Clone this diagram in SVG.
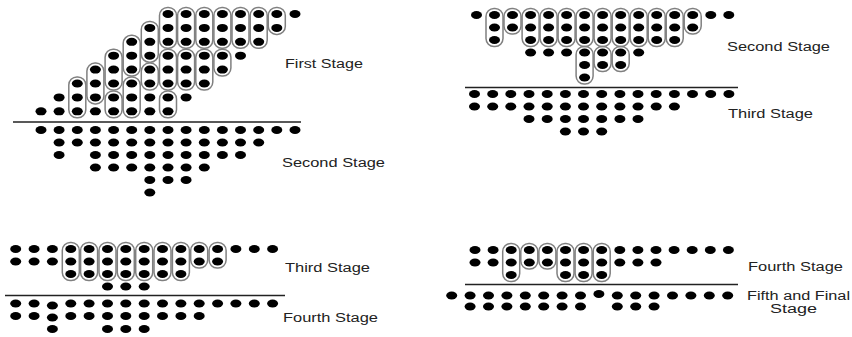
<svg xmlns="http://www.w3.org/2000/svg" xmlns:xlink="http://www.w3.org/1999/xlink" width="852" height="337" viewBox="0 0 852 337">
<style>
  .dot{fill:#000}
  .ov{fill:none;stroke:#808080;stroke-width:1.5}
  .ln{stroke:#222;stroke-width:1.3}
  .lb{font-family:"Liberation Sans",Arial,sans-serif;font-size:12px;fill:#222}
</style>
<defs>
  <ellipse id="d" class="dot" cx="0" cy="0" rx="5.5" ry="4"/>
</defs>
<rect width="852" height="337" fill="#fff"/>

<!-- Stage 1 (top-left) -->
<g id="stage1">
  <g id="stage1-ovals">
    <rect class="ov" x="68.8" y="77" width="17" height="40.8" rx="8"/>
    <rect class="ov" x="86.9" y="63.1" width="17" height="40.8" rx="8"/>
    <rect class="ov" x="105.1" y="49.2" width="17" height="40.8" rx="8"/>
    <rect class="ov" x="105.1" y="90.9" width="17" height="26.9" rx="8"/>
    <rect class="ov" x="123.2" y="35.3" width="17" height="40.8" rx="8"/>
    <rect class="ov" x="123.2" y="77" width="17" height="40.8" rx="8"/>
    <rect class="ov" x="141.3" y="21.4" width="17" height="40.8" rx="8"/>
    <rect class="ov" x="141.3" y="63.1" width="17" height="26.9" rx="8"/>
    <rect class="ov" x="159.5" y="7.5" width="17" height="40.8" rx="8"/>
    <rect class="ov" x="159.5" y="49.2" width="17" height="40.8" rx="8"/>
    <rect class="ov" x="159.5" y="90.9" width="17" height="26.9" rx="8"/>
    <rect class="ov" x="177.6" y="7.5" width="17" height="40.8" rx="8"/>
    <rect class="ov" x="177.6" y="49.2" width="17" height="40.8" rx="8"/>
    <rect class="ov" x="195.8" y="7.5" width="17" height="40.8" rx="8"/>
    <rect class="ov" x="195.8" y="49.2" width="17" height="40.8" rx="8"/>
    <rect class="ov" x="213.9" y="7.5" width="17" height="40.8" rx="8"/>
    <rect class="ov" x="213.9" y="49.2" width="17" height="26.9" rx="8"/>
    <rect class="ov" x="232" y="7.5" width="17" height="40.8" rx="8"/>
    <rect class="ov" x="250.2" y="7.5" width="17" height="40.8" rx="8"/>
    <rect class="ov" x="268.3" y="7.5" width="17" height="26.9" rx="8"/>
  </g>
  <g id="stage1-dots">
    <use href="#d" x="41" y="111.3"/><use href="#d" x="59.1" y="111.3"/><use href="#d" x="77.3" y="111.3"/><use href="#d" x="95.4" y="111.3"/><use href="#d" x="113.6" y="111.3"/><use href="#d" x="131.7" y="111.3"/><use href="#d" x="149.8" y="111.3"/><use href="#d" x="168" y="111.3"/>
    <use href="#d" x="59.1" y="97.4"/><use href="#d" x="77.3" y="97.4"/><use href="#d" x="95.4" y="97.4"/><use href="#d" x="113.6" y="97.4"/><use href="#d" x="131.7" y="97.4"/><use href="#d" x="149.8" y="97.4"/><use href="#d" x="168" y="97.4"/><use href="#d" x="186.1" y="97.4"/>
    <use href="#d" x="77.3" y="83.5"/><use href="#d" x="95.4" y="83.5"/><use href="#d" x="113.6" y="83.5"/><use href="#d" x="131.7" y="83.5"/><use href="#d" x="149.8" y="83.5"/><use href="#d" x="168" y="83.5"/><use href="#d" x="186.1" y="83.5"/><use href="#d" x="204.3" y="83.5"/>
    <use href="#d" x="95.4" y="69.6"/><use href="#d" x="113.6" y="69.6"/><use href="#d" x="131.7" y="69.6"/><use href="#d" x="149.8" y="69.6"/><use href="#d" x="168" y="69.6"/><use href="#d" x="186.1" y="69.6"/><use href="#d" x="204.3" y="69.6"/><use href="#d" x="222.4" y="69.6"/>
    <use href="#d" x="113.6" y="55.7"/><use href="#d" x="131.7" y="55.7"/><use href="#d" x="149.8" y="55.7"/><use href="#d" x="168" y="55.7"/><use href="#d" x="186.1" y="55.7"/><use href="#d" x="204.3" y="55.7"/><use href="#d" x="222.4" y="55.7"/><use href="#d" x="240.5" y="55.7"/>
    <use href="#d" x="131.7" y="41.8"/><use href="#d" x="149.8" y="41.8"/><use href="#d" x="168" y="41.8"/><use href="#d" x="186.1" y="41.8"/><use href="#d" x="204.3" y="41.8"/><use href="#d" x="222.4" y="41.8"/><use href="#d" x="240.5" y="41.8"/><use href="#d" x="258.7" y="41.8"/>
    <use href="#d" x="149.8" y="27.9"/><use href="#d" x="168" y="27.9"/><use href="#d" x="186.1" y="27.9"/><use href="#d" x="204.3" y="27.9"/><use href="#d" x="222.4" y="27.9"/><use href="#d" x="240.5" y="27.9"/><use href="#d" x="258.7" y="27.9"/><use href="#d" x="276.8" y="27.9"/>
    <use href="#d" x="168" y="14"/><use href="#d" x="186.1" y="14"/><use href="#d" x="204.3" y="14"/><use href="#d" x="222.4" y="14"/><use href="#d" x="240.5" y="14"/><use href="#d" x="258.7" y="14"/><use href="#d" x="276.8" y="14"/><use href="#d" x="295" y="14"/>
  </g>
  <line class="ln" x1="13" y1="122" x2="301" y2="122"/>
  <text class="lb" x="285" y="68" textLength="78" lengthAdjust="spacingAndGlyphs">First Stage</text>
</g>

<!-- Stage 2 (below first) -->
<g id="stage2-left">
  <use href="#d" x="41" y="130"/><use href="#d" x="59.1" y="130"/><use href="#d" x="77.3" y="130"/><use href="#d" x="95.4" y="130"/><use href="#d" x="113.6" y="130"/><use href="#d" x="131.7" y="130"/><use href="#d" x="149.8" y="130"/><use href="#d" x="168" y="130"/><use href="#d" x="186.1" y="130"/><use href="#d" x="204.3" y="130"/><use href="#d" x="222.4" y="130"/><use href="#d" x="240.5" y="130"/><use href="#d" x="258.7" y="130"/><use href="#d" x="276.8" y="130"/><use href="#d" x="295" y="130"/>
  <use href="#d" x="59.1" y="142.5"/><use href="#d" x="77.3" y="142.5"/><use href="#d" x="95.4" y="142.5"/><use href="#d" x="113.6" y="142.5"/><use href="#d" x="131.7" y="142.5"/><use href="#d" x="149.8" y="142.5"/><use href="#d" x="168" y="142.5"/><use href="#d" x="186.1" y="142.5"/><use href="#d" x="204.3" y="142.5"/><use href="#d" x="222.4" y="142.5"/><use href="#d" x="240.5" y="142.5"/><use href="#d" x="258.7" y="142.5"/>
  <use href="#d" x="59.1" y="155"/><use href="#d" x="95.4" y="155"/><use href="#d" x="113.6" y="155"/><use href="#d" x="131.7" y="155"/><use href="#d" x="149.8" y="155"/><use href="#d" x="168" y="155"/><use href="#d" x="186.1" y="155"/><use href="#d" x="204.3" y="155"/><use href="#d" x="222.4" y="155"/><use href="#d" x="240.5" y="155"/>
  <use href="#d" x="95.4" y="167.5"/><use href="#d" x="113.6" y="167.5"/><use href="#d" x="131.7" y="167.5"/><use href="#d" x="149.8" y="167.5"/><use href="#d" x="168" y="167.5"/><use href="#d" x="186.1" y="167.5"/><use href="#d" x="204.3" y="167.5"/>
  <use href="#d" x="149.8" y="180"/><use href="#d" x="168" y="180"/><use href="#d" x="186.1" y="180"/>
  <use href="#d" x="149.8" y="192.5"/>
  <text class="lb" x="282" y="167" textLength="103" lengthAdjust="spacingAndGlyphs">Second Stage</text>
</g>

<!-- Stage 2 (top-right, grouped) -->
<g id="stage2-right">
  <g id="stage2-ovals">
    <rect class="ov" x="486" y="8.5" width="17" height="38" rx="8"/>
    <rect class="ov" x="504" y="8.5" width="17" height="25.5" rx="8"/>
    <rect class="ov" x="522.1" y="8.5" width="17" height="38" rx="8"/>
    <rect class="ov" x="540.1" y="8.5" width="17" height="38" rx="8"/>
    <rect class="ov" x="558.1" y="8.5" width="17" height="38" rx="8"/>
    <rect class="ov" x="576.1" y="8.5" width="17" height="38" rx="8"/>
    <rect class="ov" x="594.1" y="8.5" width="17" height="38" rx="8"/>
    <rect class="ov" x="612.2" y="8.5" width="17" height="38" rx="8"/>
    <rect class="ov" x="630.2" y="8.5" width="17" height="38" rx="8"/>
    <rect class="ov" x="648.2" y="8.5" width="17" height="38" rx="8"/>
    <rect class="ov" x="666.2" y="8.5" width="17" height="38" rx="8"/>
    <rect class="ov" x="684.2" y="8.5" width="17" height="25.5" rx="8"/>
    <rect class="ov" x="576.1" y="46.5" width="17" height="37.5" rx="8"/>
    <rect class="ov" x="594.1" y="46.5" width="17" height="25" rx="8"/>
    <rect class="ov" x="612.2" y="46.5" width="17" height="25" rx="8"/>
  </g>
  <g id="stage2-dots">
    <use href="#d" x="476.5" y="15"/><use href="#d" x="494.5" y="15"/><use href="#d" x="512.5" y="15"/><use href="#d" x="530.6" y="15"/><use href="#d" x="548.6" y="15"/><use href="#d" x="566.6" y="15"/><use href="#d" x="584.6" y="15"/><use href="#d" x="602.6" y="15"/><use href="#d" x="620.7" y="15"/><use href="#d" x="638.7" y="15"/><use href="#d" x="656.7" y="15"/><use href="#d" x="674.7" y="15"/><use href="#d" x="692.7" y="15"/><use href="#d" x="710.8" y="15"/><use href="#d" x="728.8" y="15"/>
    <use href="#d" x="494.5" y="27.5"/><use href="#d" x="512.5" y="27.5"/><use href="#d" x="530.6" y="27.5"/><use href="#d" x="548.6" y="27.5"/><use href="#d" x="566.6" y="27.5"/><use href="#d" x="584.6" y="27.5"/><use href="#d" x="602.6" y="27.5"/><use href="#d" x="620.7" y="27.5"/><use href="#d" x="638.7" y="27.5"/><use href="#d" x="656.7" y="27.5"/><use href="#d" x="674.7" y="27.5"/><use href="#d" x="692.7" y="27.5"/>
    <use href="#d" x="494.5" y="40"/><use href="#d" x="530.6" y="40"/><use href="#d" x="548.6" y="40"/><use href="#d" x="566.6" y="40"/><use href="#d" x="584.6" y="40"/><use href="#d" x="602.6" y="40"/><use href="#d" x="620.7" y="40"/><use href="#d" x="638.7" y="40"/><use href="#d" x="656.7" y="40"/><use href="#d" x="674.7" y="40"/>
    <use href="#d" x="530.6" y="52.5"/><use href="#d" x="548.6" y="52.5"/><use href="#d" x="566.6" y="52.5"/><use href="#d" x="584.6" y="52.5"/><use href="#d" x="602.6" y="52.5"/><use href="#d" x="620.7" y="52.5"/><use href="#d" x="638.7" y="52.5"/>
    <use href="#d" x="584.6" y="65"/><use href="#d" x="602.6" y="65"/><use href="#d" x="620.7" y="65"/>
    <use href="#d" x="584.6" y="77.5"/>
  </g>
  <line class="ln" x1="465" y1="87.5" x2="738" y2="87.5"/>
  <text class="lb" x="727" y="51" textLength="103" lengthAdjust="spacingAndGlyphs">Second Stage</text>
</g>

<!-- Stage 3 (right, below line) -->
<g id="stage3-right">
  <use href="#d" x="474.5" y="94"/><use href="#d" x="492.7" y="94"/><use href="#d" x="510.8" y="94"/><use href="#d" x="529" y="94"/><use href="#d" x="547.2" y="94"/><use href="#d" x="565.4" y="94"/><use href="#d" x="583.5" y="94"/><use href="#d" x="601.7" y="94"/><use href="#d" x="619.9" y="94"/><use href="#d" x="638" y="94"/><use href="#d" x="656.2" y="94"/><use href="#d" x="674.4" y="94"/><use href="#d" x="692.5" y="94"/><use href="#d" x="710.7" y="94"/><use href="#d" x="728.9" y="94"/>
  <use href="#d" x="474.5" y="106.5"/><use href="#d" x="492.7" y="106.5"/><use href="#d" x="510.8" y="106.5"/><use href="#d" x="529" y="106.5"/><use href="#d" x="547.2" y="106.5"/><use href="#d" x="565.4" y="106.5"/><use href="#d" x="583.5" y="106.5"/><use href="#d" x="601.7" y="106.5"/><use href="#d" x="619.9" y="106.5"/><use href="#d" x="638" y="106.5"/><use href="#d" x="656.2" y="106.5"/><use href="#d" x="674.4" y="106.5"/>
  <use href="#d" x="529" y="119"/><use href="#d" x="547.2" y="119"/><use href="#d" x="565.4" y="119"/><use href="#d" x="583.5" y="119"/><use href="#d" x="601.7" y="119"/><use href="#d" x="619.9" y="119"/><use href="#d" x="638" y="119"/>
  <use href="#d" x="565.4" y="131.5"/><use href="#d" x="583.5" y="131.5"/><use href="#d" x="601.7" y="131.5"/>
  <text class="lb" x="728" y="118" textLength="85" lengthAdjust="spacingAndGlyphs">Third Stage</text>
</g>

<!-- Stage 3 (bottom-left, grouped) -->
<g id="stage3-left">
  <g id="stage3-ovals">
    <rect class="ov" x="62.3" y="242.5" width="17" height="38" rx="8"/>
    <rect class="ov" x="80.6" y="242.5" width="17" height="38" rx="8"/>
    <rect class="ov" x="99" y="242.5" width="17" height="38" rx="8"/>
    <rect class="ov" x="117.3" y="242.5" width="17" height="38" rx="8"/>
    <rect class="ov" x="135.7" y="242.5" width="17" height="38" rx="8"/>
    <rect class="ov" x="154" y="242.5" width="17" height="38" rx="8"/>
    <rect class="ov" x="172.4" y="242.5" width="17" height="38" rx="8"/>
    <rect class="ov" x="190.7" y="242.5" width="17" height="25.5" rx="8"/>
    <rect class="ov" x="209.1" y="242.5" width="17" height="25.5" rx="8"/>
  </g>
  <g id="stage3-dots">
    <use href="#d" x="15.7" y="249"/><use href="#d" x="34.1" y="249"/><use href="#d" x="52.4" y="249"/><use href="#d" x="70.8" y="249"/><use href="#d" x="89.1" y="249"/><use href="#d" x="107.5" y="249"/><use href="#d" x="125.8" y="249"/><use href="#d" x="144.2" y="249"/><use href="#d" x="162.5" y="249"/><use href="#d" x="180.9" y="249"/><use href="#d" x="199.2" y="249"/><use href="#d" x="217.6" y="249"/><use href="#d" x="235.9" y="249"/><use href="#d" x="254.3" y="249"/><use href="#d" x="272.6" y="249"/>
    <use href="#d" x="15.7" y="261.5"/><use href="#d" x="34.1" y="261.5"/><use href="#d" x="52.4" y="261.5"/><use href="#d" x="70.8" y="261.5"/><use href="#d" x="89.1" y="261.5"/><use href="#d" x="107.5" y="261.5"/><use href="#d" x="125.8" y="261.5"/><use href="#d" x="144.2" y="261.5"/><use href="#d" x="162.5" y="261.5"/><use href="#d" x="180.9" y="261.5"/><use href="#d" x="199.2" y="261.5"/><use href="#d" x="217.6" y="261.5"/>
    <use href="#d" x="70.8" y="274"/><use href="#d" x="89.1" y="274"/><use href="#d" x="107.5" y="274"/><use href="#d" x="125.8" y="274"/><use href="#d" x="144.2" y="274"/><use href="#d" x="162.5" y="274"/><use href="#d" x="180.9" y="274"/>
    <use href="#d" x="107.5" y="286.5"/><use href="#d" x="125.8" y="286.5"/><use href="#d" x="144.2" y="286.5"/>
  </g>
  <line class="ln" x1="5" y1="295.5" x2="285" y2="295.5"/>
  <text class="lb" x="285" y="272" textLength="85" lengthAdjust="spacingAndGlyphs">Third Stage</text>
</g>

<!-- Stage 4 (bottom-left, below line) -->
<g id="stage4-left">
  <use href="#d" x="15.7" y="303.5"/><use href="#d" x="34.1" y="303.5"/><use href="#d" x="52.4" y="305.5"/><use href="#d" x="70.8" y="303.5"/><use href="#d" x="89.1" y="303.5"/><use href="#d" x="107.5" y="303.5"/><use href="#d" x="125.8" y="303.5"/><use href="#d" x="144.2" y="303.5"/><use href="#d" x="162.5" y="303.5"/><use href="#d" x="180.9" y="303.5"/><use href="#d" x="199.2" y="303.5"/><use href="#d" x="217.6" y="303.5"/><use href="#d" x="235.9" y="303.5"/><use href="#d" x="254.3" y="303.5"/><use href="#d" x="272.6" y="303.5"/>
  <use href="#d" x="15.7" y="316"/><use href="#d" x="34.1" y="316"/><use href="#d" x="52.4" y="317.5"/><use href="#d" x="70.8" y="316"/><use href="#d" x="89.1" y="316"/><use href="#d" x="107.5" y="316"/><use href="#d" x="125.8" y="316"/><use href="#d" x="144.2" y="316"/><use href="#d" x="162.5" y="316"/><use href="#d" x="180.9" y="316"/><use href="#d" x="199.2" y="316"/>
  <use href="#d" x="52.4" y="329"/><use href="#d" x="107.5" y="329"/><use href="#d" x="125.8" y="329"/><use href="#d" x="144.2" y="329"/>
  <text class="lb" x="283" y="321.5" textLength="95" lengthAdjust="spacingAndGlyphs">Fourth Stage</text>
</g>

<!-- Stage 4 (bottom-right, grouped) -->
<g id="stage4-right">
  <g id="stage4-ovals">
    <rect class="ov" x="502.7" y="243.5" width="17" height="38" rx="8"/>
    <rect class="ov" x="520.8" y="243.5" width="17" height="25.5" rx="8"/>
    <rect class="ov" x="538.9" y="243.5" width="17" height="25.5" rx="8"/>
    <rect class="ov" x="557" y="243.5" width="17" height="38" rx="8"/>
    <rect class="ov" x="575.1" y="243.5" width="17" height="38" rx="8"/>
    <rect class="ov" x="593.2" y="243.5" width="17" height="38" rx="8"/>
  </g>
  <g id="stage4-dots">
    <use href="#d" x="475" y="250"/><use href="#d" x="493.1" y="250"/><use href="#d" x="511.2" y="250"/><use href="#d" x="529.3" y="250"/><use href="#d" x="547.4" y="250"/><use href="#d" x="565.5" y="250"/><use href="#d" x="583.6" y="250"/><use href="#d" x="601.7" y="250"/><use href="#d" x="619.8" y="250"/><use href="#d" x="637.9" y="250"/><use href="#d" x="656" y="250"/><use href="#d" x="674.1" y="250"/><use href="#d" x="692.2" y="250"/><use href="#d" x="710.3" y="250"/><use href="#d" x="728.4" y="250"/>
    <use href="#d" x="475" y="262.5"/><use href="#d" x="493.1" y="262.5"/><use href="#d" x="511.2" y="262.5"/><use href="#d" x="529.3" y="262.5"/><use href="#d" x="547.4" y="262.5"/><use href="#d" x="565.5" y="262.5"/><use href="#d" x="583.6" y="262.5"/><use href="#d" x="601.7" y="262.5"/><use href="#d" x="619.8" y="262.5"/><use href="#d" x="637.9" y="262.5"/><use href="#d" x="656" y="262.5"/>
    <use href="#d" x="511.2" y="275"/><use href="#d" x="565.5" y="275"/><use href="#d" x="583.6" y="275"/><use href="#d" x="601.7" y="275"/>
  </g>
  <line class="ln" x1="465" y1="284.5" x2="738" y2="284.5"/>
  <text class="lb" x="748" y="271" textLength="95" lengthAdjust="spacingAndGlyphs">Fourth Stage</text>
</g>

<!-- Stage 5 (final) -->
<g id="stage5">
  <use href="#d" x="451.7" y="295.5"/><use href="#d" x="470.1" y="295.5"/><use href="#d" x="488.5" y="295.5"/><use href="#d" x="506.9" y="295.5"/><use href="#d" x="525.3" y="295.5"/><use href="#d" x="543.7" y="295.5"/><use href="#d" x="562.1" y="295.5"/><use href="#d" x="580.5" y="295.5"/><use href="#d" x="598.9" y="294"/><use href="#d" x="617.3" y="295.5"/><use href="#d" x="635.7" y="295.5"/><use href="#d" x="654.1" y="295.5"/><use href="#d" x="672.5" y="295.5"/><use href="#d" x="690.9" y="295.5"/><use href="#d" x="709.3" y="295.5"/><use href="#d" x="727.7" y="295.5"/>
  <use href="#d" x="470.1" y="306.5"/><use href="#d" x="488.5" y="306.5"/><use href="#d" x="506.9" y="306.5"/><use href="#d" x="525.3" y="306.5"/><use href="#d" x="543.7" y="306.5"/><use href="#d" x="562.1" y="306.5"/><use href="#d" x="580.5" y="306.5"/><use href="#d" x="617.3" y="306.5"/><use href="#d" x="635.7" y="306.5"/><use href="#d" x="654.1" y="306.5"/>
  <text class="lb" x="747" y="300" textLength="103" lengthAdjust="spacingAndGlyphs">Fifth and Final</text>
  <text class="lb" x="770" y="313" textLength="47" lengthAdjust="spacingAndGlyphs">Stage</text>
</g>
</svg>
